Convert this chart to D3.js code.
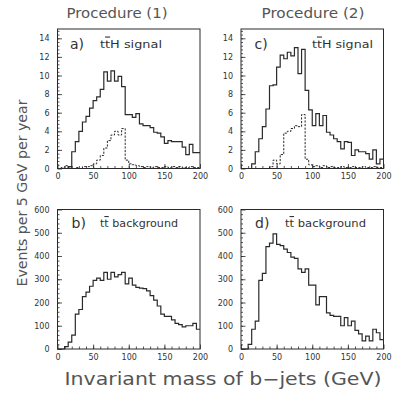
<!DOCTYPE html>
<html>
<head>
<meta charset="utf-8">
<script src="https://cdn.jsdelivr.net/npm/d3@7"></script>
<style>
  body { margin: 0; background: #fff; }
  svg { display: block; }
  text { font-family: "DejaVu Sans", sans-serif; }
</style>
</head>
<body>
<svg id="chart" width="401" height="396"></svg>
<script>
// Bin lower edges (5 GeV bins from 0 to 200)
const binEdges = d3.range(0, 200, 5);
const xTicks = [0, 50, 100, 150, 200];
const sigTicks = [0, 2, 4, 6, 8, 10, 12, 14];
const bkgTicks = [0, 100, 200, 300, 400, 500, 600];

// Procedure (1), ttH signal: all events (solid) and correct pairings (dashed)
const sigAll1 = [0, 0, 0, 0.2, 1.8, 2.9, 4.0, 5.0, 5.6, 6.5,
  7.3, 7.7, 8.5, 10.4, 9.4, 10.5, 9.4, 9.9, 8.8, 5.8,
  5.8, 5.5, 5.9, 4.8, 4.6, 4.6, 4.4, 3.9, 3.8, 3.4,
  2.7, 3.0, 2.9, 2.9, 2.9, 2.3, 1.5, 2.6, 1.7, 1.7];
const sigTrue1 = [0, 0.1, 0.3, 0.1, 0, 0.1, 0, 0.2, 0.2, 0.3,
  0.5, 0.9, 1.4, 2.2, 3.0, 3.6, 4.0, 3.6, 4.3, 0.9,
  0.5, 0.4, 0.3, 0.2, 0.1, 0.2, 0.1, 0.2, 0.1, 0.1,
  0.2, 0.1, 0.2, 0.1, 0.2, 0.1, 0.1, 0.2, 0.1, 0.1];

// Procedure (2), ttH signal
const sigAll2 = [0, 0, 0, 0.5, 1.8, 3.2, 4.5, 6.4, 8.9, 9.0,
  10.9, 12.2, 11.8, 12.5, 12.1, 13.0, 10.2, 12.8, 8.4, 6.3,
  4.6, 5.9, 4.6, 5.7, 3.9, 3.6, 3.2, 2.9, 2.1, 2.9,
  2.8, 1.4, 2.0, 1.8, 1.8, 1.6, 1.0, 2.0, 0.5, 1.0];
const sigTrue2 = [0, 0, 0, 0, 0, 0, 0, 0, 0.2, 0.9,
  0.5, 1.5, 3.8, 4.0, 4.3, 4.6, 4.5, 5.8, 1.0, 0.4,
  0.2, 0.3, 0.1, 0.3, 0.1, 0.2, 0.1, 0.1, 0.2, 0.1,
  0.1, 0.2, 0.1, 0.1, 0.2, 0.1, 0.1, 0.2, 0.1, 0.1];

// ttbar background
const bkg1 = [0, 0, 10, 30, 60, 150, 170, 225, 245, 270,
  295, 305, 295, 330, 300, 330, 310, 320, 330, 280,
  305, 275, 265, 262, 260, 250, 230, 210, 185, 150,
  140, 140, 125, 110, 105, 95, 100, 100, 110, 85];
const bkg2 = [0, 0, 20, 85, 120, 295, 325, 440, 455, 495,
  450, 445, 430, 415, 395, 390, 345, 330, 345, 275,
  275, 190, 225, 225, 155, 145, 140, 140, 100, 135,
  100, 120, 80, 65, 35, 55, 35, 85, 70, 40];

const panels = [
  { left: 57.5, top: 29, ymax: 15, yTicks: sigTicks, yMinor: 0.4, tag: 'a)', tagX: 12.5, tagY: 19.5, label: ' signal', labelX: 42.5, labelW: 62, series: [sigAll1, sigTrue1] },
  { left: 241, top: 29, ymax: 15, yTicks: sigTicks, yMinor: 0.4, tag: 'c)', tagX: 13.5, tagY: 19.5, label: ' signal', labelX: 71, labelW: 61, series: [sigAll2, sigTrue2] },
  { left: 57.5, top: 209.5, ymax: 600, yTicks: bkgTicks, yMinor: 20, tag: 'b)', tagX: 14, tagY: 18.5, label: ' background', labelX: 42.5, labelW: 78, series: [bkg1] },
  { left: 241, top: 209.5, ymax: 600, yTicks: bkgTicks, yMinor: 20, tag: 'd)', tagX: 14, tagY: 18.5, label: ' background', labelX: 44, labelW: 81, series: [bkg2] },
];

const W = 142.5, H = 139.5;
const ink = '#2a2a2a';
const svg = d3.select('#chart');

panels.forEach(p => {
  const g = svg.append('g').attr('transform', `translate(${p.left},${p.top})`);
  const x = d3.scaleLinear().domain([0, 200]).range([0, W]);
  const y = d3.scaleLinear().domain([0, p.ymax]).range([H, 0]);

  // minor ticks
  g.append('g').attr('transform', `translate(0,${H})`)
    .call(d3.axisBottom(x).tickValues(d3.range(10, 200, 10)).tickSize(-2.5).tickSizeOuter(0).tickFormat(''));
  g.append('g')
    .call(d3.axisLeft(y).tickValues(d3.range(p.yMinor, p.ymax, p.yMinor)).tickSize(-2).tickSizeOuter(0).tickFormat(''));

  // major ticks + labels
  g.append('g').attr('class', 'axis').attr('transform', `translate(0,${H})`)
    .call(d3.axisBottom(x).tickValues(xTicks).tickSize(-4.5).tickSizeOuter(0).tickPadding(5));
  g.append('g').attr('class', 'axis')
    .call(d3.axisLeft(y).tickValues(p.yTicks).tickSize(-4.5).tickSizeOuter(0).tickPadding(8));

  g.selectAll('.domain').remove();
  g.selectAll('.tick line').attr('stroke', ink).attr('stroke-width', 0.8);
  g.selectAll('.axis text').attr('font-size', 8).attr('fill', '#333');

  // frame
  g.append('rect').attr('width', W).attr('height', H)
    .attr('fill', 'none').attr('stroke', ink).attr('stroke-width', 1);

  // histograms
  const line = d3.line().curve(d3.curveStepAfter).x(d => x(d[0])).y(d => y(d[1]));
  p.series.forEach((vals, i) => {
    const pts = binEdges.map((e, k) => [e, vals[k]]);
    pts.push([200, vals[vals.length - 1]]);
    g.append('path').datum(pts)
      .attr('d', line)
      .attr('fill', 'none')
      .attr('stroke', ink)
      .attr('stroke-width', i === 0 ? 1.2 : 1)
      .attr('stroke-dasharray', i === 0 ? null : '2.2,1.4');
  });

  // panel tag and process label (t tbar with an overline on the second t)
  g.append('text').attr('x', p.tagX).attr('y', p.tagY)
    .attr('font-size', 14).attr('fill', '#333').text(p.tag);
  const lab = g.append('text').attr('x', p.labelX).attr('y', p.tagY - 1)
    .attr('font-size', 11).attr('fill', '#333')
    .attr('textLength', p.labelW).attr('lengthAdjust', 'spacingAndGlyphs');
  lab.append('tspan').text('t');
  lab.append('tspan').style('text-decoration', 'overline').text('t');
  lab.append('tspan').text((p.ymax === 15 ? 'H' : '') + p.label);
});

// column titles
svg.append('text').attr('x', 117).attr('y', 18).attr('text-anchor', 'middle')
  .attr('font-size', 14).attr('fill', '#555')
  .attr('textLength', 101).attr('lengthAdjust', 'spacingAndGlyphs').text('Procedure (1)');
svg.append('text').attr('x', 313).attr('y', 18).attr('text-anchor', 'middle')
  .attr('font-size', 14).attr('fill', '#555')
  .attr('textLength', 103).attr('lengthAdjust', 'spacingAndGlyphs').text('Procedure (2)');

// axis titles
svg.append('text').attr('transform', 'translate(27,193) rotate(-90)')
  .attr('text-anchor', 'middle').attr('font-size', 13.5).attr('fill', '#555')
  .attr('textLength', 187).attr('lengthAdjust', 'spacingAndGlyphs')
  .text('Events per 5 GeV per year');
svg.append('text').attr('x', 223).attr('y', 385).attr('text-anchor', 'middle')
  .attr('font-size', 17).attr('fill', '#555')
  .attr('textLength', 317).attr('lengthAdjust', 'spacingAndGlyphs')
  .text('Invariant mass of b\u2212jets (GeV)');
</script>
</body>
</html>
